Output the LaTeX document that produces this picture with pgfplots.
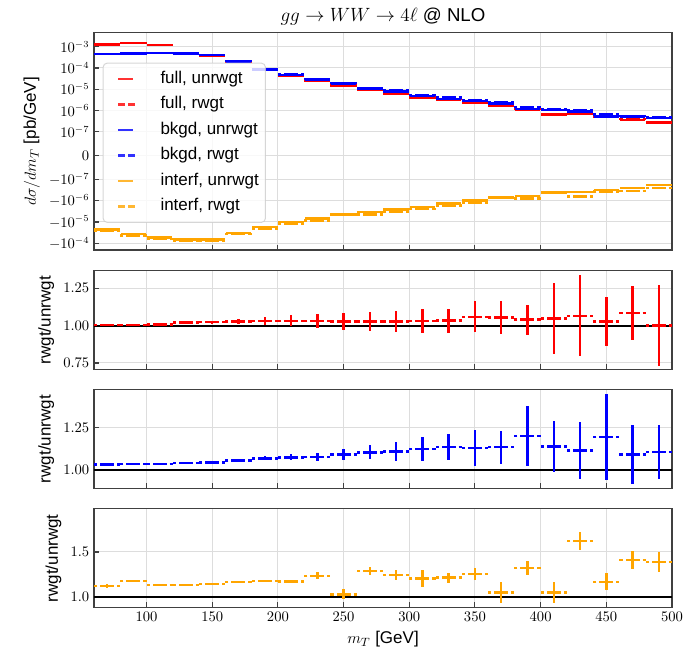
\documentclass[border=0pt]{standalone}
\usepackage{fontspec}
\setmainfont{Liberation Sans}
\usepackage{pgfplots}
\usepackage{pgfplotstable}
\pgfplotsset{compat=1.18}
\definecolor{mplorange}{HTML}{FFA500}
\definecolor{gridgray}{HTML}{DDDDDD}
\definecolor{framegray}{HTML}{404040}
\tikzset{unrw/.style={dash pattern=on 9.6pt off 2.4pt on 1.5pt off 2.4pt},
         rw/.style={dash pattern=on 5.25pt off 2.25pt}}
\newcommand{\legimg}[3]{\path[draw=none,fill=none] (0pt,0pt) -- (38pt,0pt);\draw[draw=#1,line width=1.8pt,#2] (6.4pt,0pt) -- (#3,0pt);}
\pgfplotsset{
  hseg/.style 2 args={draw=none, mark=none,
    /pgfplots/error bars/x dir=both,
    /pgfplots/error bars/x fixed=10,
    /pgfplots/error bars/error mark=none,
    /pgfplots/error bars/error bar style={draw=#1, line width=1.8pt, #2}},
  vseg/.style={draw=none, mark=none,
    /pgfplots/error bars/y dir=both,
    /pgfplots/error bars/y explicit,
    /pgfplots/error bars/error mark=none,
    /pgfplots/error bars/error bar style={draw=#1, line width=1.8pt, solid}},
  panel/.style={scale only axis, width=433.5pt, anchor=south west,
    xmin=60, xmax=500, xtick={100,150,...,500},
    grid=major, major grid style={draw=gridgray, line width=0.75pt},
    axis line style={draw=framegray, line width=1pt},
    tick align=inside, xtick pos=bottom, ytick pos=left,
    major tick length=4pt, every tick/.style={draw=framegray, line width=0.8pt},
    tick label style={font=\fontsize{10.7}{12}\selectfont},
    label style={font=\fontsize{12.75}{15}\selectfont},
  },
}
% top panel values: d sigma / d m_T  [pb/GeV]
\pgfplotstableread{
x   fu        fr        bu       br       iu         ir
70  1.28e-3   1.285e-3  4.4e-4   4.53e-4  -2.24e-5   -2.51e-5
90  1.5e-3    1.506e-3  4.7e-4   4.85e-4  -3.7e-5    -4.35e-5
110 1.19e-3   1.198e-3  5.0e-4   5.17e-4  -5.4e-5    -6.10e-5
130 4.7e-4    4.79e-4   4.8e-4   4.98e-4  -6.7e-5    -7.56e-5
150 3.8e-4    3.88e-4   4.0e-4   4.17e-4  -6.7e-5    -7.66e-5
170 1.95e-4   2.00e-4   2.0e-4   2.11e-4  -3.2e-5    -3.73e-5
190 8.2e-5    8.45e-5   8.5e-5   9.07e-5  -1.7e-5    -2.00e-5
210 4.2e-5    4.33e-5   4.8e-5   5.15e-5  -1.0e-5    -1.17e-5
230 2.45e-5   2.52e-5   2.84e-5  3.06e-5  -6.9e-6    -8.51e-6
250 1.48e-5   1.52e-5   1.85e-5  2.02e-5  -4.4e-6    -4.51e-6
270 9.3e-6    9.55e-6   1.07e-5  1.18e-5  -3.5e-6    -4.50e-6
290 6.2e-6    6.37e-6   7.8e-6   8.65e-6  -2.6e-6    -3.22e-6
310 4.0e-6    4.12e-6   4.8e-6   5.39e-6  -2.0e-6    -2.41e-6
330 3.3e-6    3.41e-6   3.6e-6   4.09e-6  -1.38e-6   -1.68e-6
350 2.3e-6    2.43e-6   2.8e-6   3.16e-6  -1.0e-6    -1.26e-6
370 1.73e-6   1.82e-6   2.15e-6  2.44e-6  -7.2e-7    -7.52e-7
390 1.12e-6   1.16e-6   1.2e-6   1.44e-6  -6.0e-7    -7.94e-7
410 6.7e-7    7.01e-7   1.07e-6  1.22e-6  -4.2e-7    -4.39e-7
430 6.9e-7    7.35e-7   9.3e-7   1.04e-6  -3.9e-7    -6.33e-7
450 5.1e-7    5.24e-7   5.4e-7   6.45e-7  -3.2e-7    -3.73e-7
470 3.7e-7    4.01e-7   5.2e-7   5.66e-7  -2.5e-7    -3.53e-7
490 2.8e-7    2.8e-7    4.5e-7   4.97e-7  -1.85e-7   -2.57e-7
}\topdata
% ratio rwgt/unrwgt with uncertainties
\pgfplotstableread{
x   rf     ef     rb     eb     ri     ei
70  1.004  0.003  1.030  0.003  1.120  0.020
90  1.004  0.003  1.032  0.003  1.177  0.015
110 1.007  0.004  1.034  0.004  1.130  0.012
130 1.020  0.008  1.038  0.005  1.128  0.012
150 1.022  0.010  1.042  0.006  1.143  0.012
170 1.027  0.016  1.054  0.008  1.165  0.012
190 1.030  0.026  1.067  0.012  1.177  0.015
210 1.031  0.036  1.073  0.018  1.170  0.020
230 1.030  0.045  1.077  0.025  1.233  0.040
250 1.027  0.054  1.091  0.032  1.026  0.056
270 1.027  0.061  1.103  0.042  1.286  0.047
290 1.027  0.067  1.109  0.055  1.240  0.053
310 1.031  0.078  1.123  0.070  1.203  0.090
330 1.033  0.080  1.135  0.075  1.214  0.056
350 1.058  0.104  1.129  0.105  1.256  0.066
370 1.054  0.108  1.133  0.097  1.045  0.115
390 1.040  0.100  1.200  0.180  1.323  0.075
410 1.047  0.237  1.137  0.150  1.045  0.115
430 1.065  0.270  1.115  0.170  1.624  0.100
450 1.027  0.165  1.194  0.255  1.165  0.095
470 1.085  0.180  1.089  0.177  1.413  0.100
490 1.000  0.270  1.105  0.158  1.390  0.110
}\ratiodata
\begin{document}
\begin{tikzpicture}
\path[use as bounding box] (0,0) rectangle (515.25pt,490.5pt);
% ---------------- top panel
\begin{axis}[panel, at={(70.5pt,303pt)}, height=163pt,
  ymin=-4.425, ymax=5.768,
  ytick={5.1111,4.1111,3.1111,2.1111,1.1111,0,-1.1111,-2.1111,-3.1111,-4.1111},
  yticklabels={$10^{-3}$,$10^{-4}$,$10^{-5}$,$10^{-6}$,$10^{-7}$,$0$,$-10^{-7}$,$-10^{-6}$,$-10^{-5}$,$-10^{-4}$},
  xticklabels={},
  ylabel={$d\sigma/dm_T$ [pb/GeV]},
  title={$gg \to WW \to 4\ell$ @ NLO},
  title style={font=\fontsize{14}{16}\selectfont, yshift=-4pt},
  legend cell align=left,
  legend style={at={(0.015,0.862)}, anchor=north west,
    draw=black!20, fill=white, fill opacity=0.8, draw opacity=0.8, text opacity=1,
    rounded corners=3pt, line width=0.75pt,
    font=\fontsize{12.75}{15}\selectfont,
    inner xsep=5pt, inner ysep=6pt, row sep=7.2pt,
    nodes={inner sep=0pt, text height=9.2pt, text depth=2.7pt}},
]
\addplot[hseg={red}{unrw}, legend image code/.code={\legimg{red}{solid}{17pt}}]
  table[x=x, y expr={ln(\thisrow{fu})/ln(10)+8.1111}] {\topdata};
\addlegendentry{full, unrwgt}
\addplot[hseg={red}{rw}, legend image code/.code={\legimg{red}{rw}{19.15pt}}]
  table[x=x, y expr={ln(\thisrow{fr})/ln(10)+8.1111}] {\topdata};
\addlegendentry{full, rwgt}
\addplot[hseg={blue}{unrw}, legend image code/.code={\legimg{blue}{solid}{17pt}}]
  table[x=x, y expr={ln(\thisrow{bu})/ln(10)+8.1111}] {\topdata};
\addlegendentry{bkgd, unrwgt}
\addplot[hseg={blue}{rw}, legend image code/.code={\legimg{blue}{rw}{19.15pt}}]
  table[x=x, y expr={ln(\thisrow{br})/ln(10)+8.1111}] {\topdata};
\addlegendentry{bkgd, rwgt}
\addplot[hseg={mplorange}{unrw}, legend image code/.code={\legimg{mplorange}{solid}{17pt}}]
  table[x=x, y expr={-(ln(-\thisrow{iu})/ln(10)+8.1111)}] {\topdata};
\addlegendentry{interf, unrwgt}
\addplot[hseg={mplorange}{rw}, legend image code/.code={\legimg{mplorange}{rw}{19.15pt}}]
  table[x=x, y expr={-(ln(-\thisrow{ir})/ln(10)+8.1111)}] {\topdata};
\addlegendentry{interf, rwgt}
\end{axis}
% ---------------- full ratio
\begin{axis}[panel, at={(70.5pt,213.2pt)}, height=74.3pt,
  ymin=0.705, ymax=1.366, ytick={0.75,1.00,1.25},
  yticklabel style={/pgf/number format/.cd, fixed, fixed zerofill, precision=2},
  xticklabels={}, ylabel={rwgt/unrwgt}]
\addplot[black, line width=1.5pt, forget plot] coordinates {(60,1) (500,1)};
\addplot[hseg={red}{rw}] table[x=x, y=rf] {\ratiodata};
\addplot[vseg=red] table[x=x, y=rf, y error=ef] {\ratiodata};
\end{axis}
% ---------------- bkgd ratio
\begin{axis}[panel, at={(70.5pt,124pt)}, height=74.3pt,
  ymin=0.887, ymax=1.476, ytick={1.00,1.25},
  yticklabel style={/pgf/number format/.cd, fixed, fixed zerofill, precision=2},
  xticklabels={}, ylabel={rwgt/unrwgt}]
\addplot[black, line width=1.5pt, forget plot] coordinates {(60,1) (500,1)};
\addplot[hseg={blue}{rw}] table[x=x, y=rb] {\ratiodata};
\addplot[vseg=blue] table[x=x, y=rb, y error=eb] {\ratiodata};
\end{axis}
% ---------------- interf ratio
\begin{axis}[panel, at={(70.5pt,34.7pt)}, height=74.3pt,
  ymin=0.876, ymax=1.985, ytick={1.0,1.5},
  yticklabel style={/pgf/number format/.cd, fixed, fixed zerofill, precision=1},
  ylabel={rwgt/unrwgt}, xlabel={$m_T$ [GeV]}]
\addplot[black, line width=1.5pt, forget plot] coordinates {(60,1) (500,1)};
\addplot[hseg={mplorange}{rw}] table[x=x, y=ri] {\ratiodata};
\addplot[vseg=mplorange] table[x=x, y=ri, y error=ei] {\ratiodata};
\end{axis}
\end{tikzpicture}
\end{document}
